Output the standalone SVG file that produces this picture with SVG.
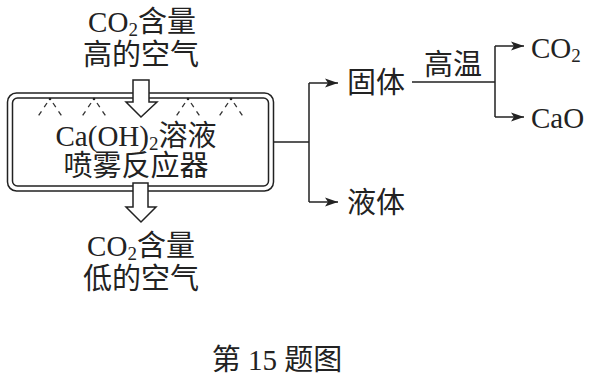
<svg xmlns="http://www.w3.org/2000/svg" width="591" height="379" viewBox="0 0 591 379">
<defs>
<style>
.t{font-family:"Liberation Serif","Noto Sans CJK SC",serif;font-size:29px;fill:#222}
.c{font-family:"Noto Sans CJK SC","Liberation Serif",sans-serif}
.sub{font-size:19px;baseline-shift:-4px}
.ln{stroke:#222;stroke-width:1.5;fill:none}
.blk{stroke:#222;stroke-width:1.5;fill:#fff}
.spray{stroke:#333;stroke-width:1.3;stroke-dasharray:5 5;fill:none}
</style>
<marker id="ah" markerUnits="userSpaceOnUse" markerWidth="14" markerHeight="10" refX="13" refY="5" orient="auto">
<path d="M0,0.5 L13,5 L0,9.5 L3,5 z" fill="#222"/>
</marker>
</defs>
<rect width="591" height="379" fill="#fff"/>

<g id="reactor">
<rect class="ln" x="7.5" y="93" width="266" height="98" rx="9"/>
<rect class="ln" x="12.5" y="98" width="256" height="88" rx="5"/>
<g id="sprays">
<circle cx="50" cy="99" r="1.3" fill="#222"/>
<circle cx="94" cy="99" r="1.3" fill="#222"/>
<circle cx="188" cy="99" r="1.3" fill="#222"/>
<circle cx="231" cy="99" r="1.3" fill="#222"/>
<path class="spray" d="M47,103 L37,118 M53,103 L63,118 M91,103 L81,118 M97,103 L107,118 M185,103 L175,118 M191,103 L201,118 M228,103 L218,118 M234,103 L244,118"/>
</g>
<text class="t" x="136" y="146" text-anchor="middle">Ca(OH)<tspan class="sub">2</tspan><tspan class="c">溶液</tspan></text>
<text class="t c" x="136" y="176" text-anchor="middle">喷雾反应器</text>
</g>

<g id="inlet">
<polygon class="blk" points="133,80 149,80 149,102 157,102 141,117 126,102 133,102"/>
<text class="t" x="142" y="32" text-anchor="middle">CO<tspan class="sub">2</tspan><tspan class="c">含量</tspan></text>
<text class="t c" x="141" y="65" text-anchor="middle">高的空气</text>
</g>

<g id="outlet">
<polygon class="blk" points="133,183 148,183 148,207 156,207 141,222 126,207 133,207"/>
<text class="t" x="141" y="256" text-anchor="middle">CO<tspan class="sub">2</tspan><tspan class="c">含量</tspan></text>
<text class="t c" x="141" y="289" text-anchor="middle">低的空气</text>
</g>

<g id="connectors">
<path class="ln" d="M274,142 H309 M309,83 V202"/>
<path class="ln" d="M309,83 H338" marker-end="url(#ah)"/>
<path class="ln" d="M309,202 H338" marker-end="url(#ah)"/>
<path class="ln" d="M412,82 H495 M495,46 V117"/>
<path class="ln" d="M495,46 H524" marker-end="url(#ah)"/>
<path class="ln" d="M495,117 H524" marker-end="url(#ah)"/>
</g>

<g id="solid"><text class="t c" x="347" y="93">固体</text></g>
<g id="liquid"><text class="t c" x="347" y="213">液体</text></g>
<g id="heat"><text class="t c" x="453" y="75" text-anchor="middle" font-size="27">高温</text></g>
<g id="co2"><text class="t" x="531" y="58" font-size="28">CO<tspan class="sub" font-size="18">2</tspan></text></g>
<g id="cao"><text class="t" x="531" y="128" font-size="28">CaO</text></g>

<text class="t" x="277" y="370" text-anchor="middle" font-size="27"><tspan class="c">第</tspan> 15 <tspan class="c">题图</tspan></text>
</svg>
